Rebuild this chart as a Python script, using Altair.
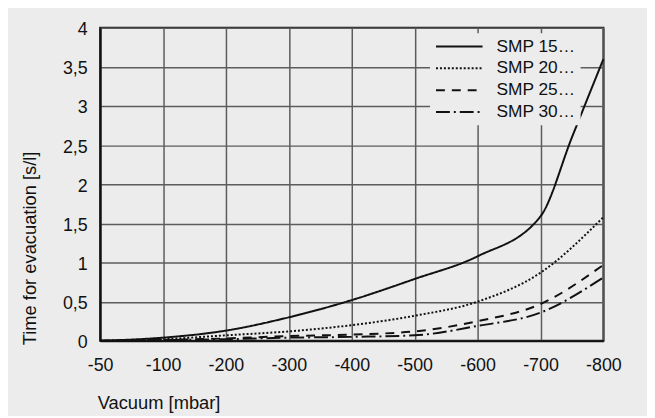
import json
import altair as alt
import pandas as pd

# ---- data ----
categories = ["-50", "-100", "-200", "-300", "-400", "-500", "-600", "-700", "-800"]
positions = [0, 1, 2, 3, 4, 5, 6, 7, 8]
series_names = ["SMP 15…", "SMP 20…", "SMP 25…", "SMP 30…"]
smp15 = [0.00, 0.04, 0.13, 0.30, 0.52, 0.79, 1.08, 1.59, 3.60]
smp20 = [0.00, 0.02, 0.07, 0.12, 0.20, 0.32, 0.50, 0.87, 1.58]
smp25 = [0.00, 0.01, 0.03, 0.06, 0.08, 0.12, 0.25, 0.47, 0.97]
smp30 = [0.00, 0.01, 0.02, 0.04, 0.05, 0.07, 0.19, 0.36, 0.81]
# extra reading of SMP 15 half way between -700 and -800 (straight segment)
smp15_mid_pos = [7.5]
smp15_mid_val = [2.60]
y_ticks = [0, 0.5, 1, 1.5, 2, 2.5, 3, 3.5, 4]
dash_styles = [[1, 0], [2, 2], [9, 7], [14, 4, 2, 4]]

rows = []
for name, vals in zip(series_names, [smp15, smp20, smp25, smp30]):
    for p, v in zip(positions, vals):
        rows.append({"series": name, "pos": p, "time": v})
for p, v in zip(smp15_mid_pos, smp15_mid_val):
    rows.append({"series": series_names[0], "pos": p, "time": v})
df = pd.DataFrame(rows).sort_values(["series", "pos"]).reset_index(drop=True)

FONT = "Liberation Sans"
BG = "#ececec"
INK = "#111111"

x_label_expr = json.dumps(categories) + "[datum.value]"

chart = (
    alt.Chart(df)
    .mark_line(color=INK, strokeWidth=2, interpolate="monotone")
    .encode(
        x=alt.X(
            "pos:Q",
            scale=alt.Scale(domain=[positions[0], positions[-1]], nice=False, zero=False),
            axis=alt.Axis(
                values=positions,
                labelExpr=x_label_expr,
                labelFlush=False,
                title="Vacuum [mbar]",
                titleX=-3,
                titleY=62,
                titleAlign="left",
                titleBaseline="middle",
                labelPadding=16,
                labelBaseline="top",
            ),
        ),
        y=alt.Y(
            "time:Q",
            scale=alt.Scale(domain=[0, 4], nice=False),
            axis=alt.Axis(
                values=y_ticks,
                labelExpr="replace(format(datum.value, '~g'), '.', ',')",
                title="Time for evacuation [s/l]",
                titleX=-71,
                titleY=320,
                titleAngle=270,
                titleAlign="left",
                titleBaseline="middle",
                labelPadding=13,
                labelBaseline="middle",
                labelOffset=2,
            ),
        ),
        strokeDash=alt.StrokeDash(
            "series:N",
            scale=alt.Scale(domain=series_names, range=dash_styles),
            legend=alt.Legend(
                title=None,
                orient="none",
                legendX=333,
                legendY=5.5,
                fillColor=BG,
                padding=5,
                symbolType="stroke",
                symbolSize=2209,
                symbolStrokeWidth=2,
                symbolStrokeColor=INK,
                clipHeight=17,
                labelFont=FONT,
                labelFontSize=17.5,
                labelColor=INK,
                labelOffset=13,
                rowPadding=4,
            ),
        ),
        detail="series:N",
        order="pos:Q",
    )
    .properties(
        width=508,
        height=316,
        background=BG,
        autosize=alt.AutoSizeParams(type="none"),
        padding={"left": 93, "top": 18, "right": 44, "bottom": 74},
    )
    .configure_view(stroke="#1a1a1a", strokeWidth=2)
    .configure_axis(
        grid=True,
        gridColor="#5c5c5c",
        gridWidth=1.5,
        domainColor=INK,
        domainWidth=2,
        ticks=False,
        tickSize=0,
        labelFont=FONT,
        labelFontSize=18,
        labelColor=INK,
        titleFont=FONT,
        titleFontSize=18.5,
        titleFontWeight="normal",
        titleColor=INK,
    )
)

chart.save("out.html", embed_options={"renderer": "svg", "actions": False})
